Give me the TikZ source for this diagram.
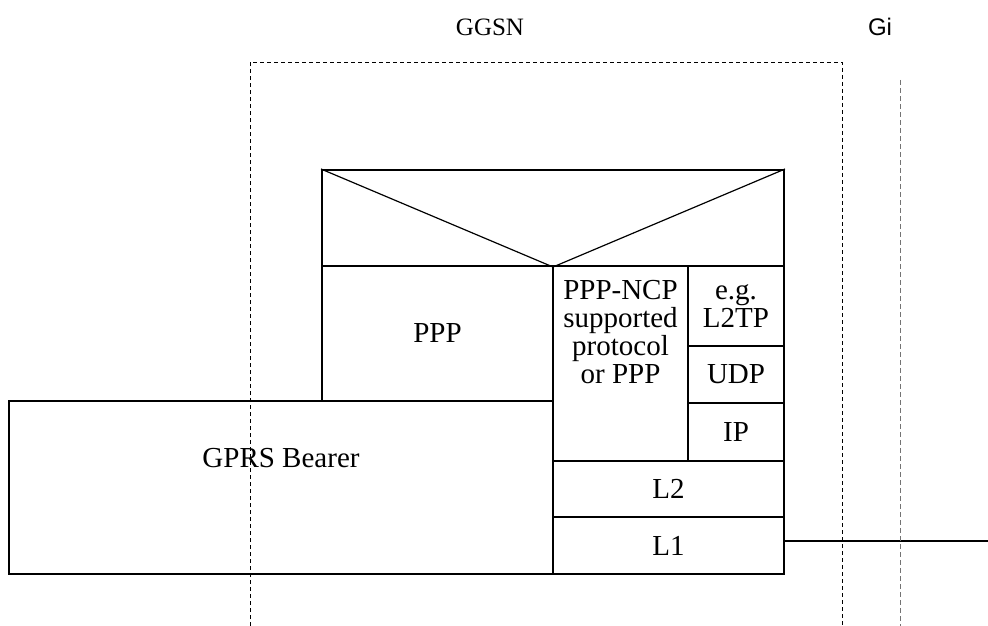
\documentclass[tikz,border=0pt]{standalone}
\usepackage{fontspec}
\setmainfont{Liberation Serif}
\newfontfamily\arialfont{Liberation Sans}
\begin{document}
\begin{tikzpicture}[x=1pt,y=-1pt,
  box/.style={draw=black,line width=2pt,anchor=north west,inner sep=0pt,
    font=\fontsize{29}{33}\selectfont,align=center},
  dashln/.style={draw=black,line width=0.8pt,dash pattern=on 4pt off 3pt},
  giln/.style={draw=black!55,line width=1pt,dash pattern=on 5pt off 3pt},
  link/.style={draw=black,line width=2pt}]
\useasboundingbox (0,0) rectangle (988,626);
% titles
\node[font=\fontsize{25}{28}\selectfont] (ggsn) at (490,27) {GGSN};
\node[font=\arialfont\fontsize{24}{28}\selectfont] (gi) at (880,27) {Gi};
% protocol stack
\node[box,minimum width=462,minimum height=96] (tri) at (321,169) {};
\draw[line width=1.2pt] (tri.north west) -- (tri.south) -- (tri.north east);
\node[box,minimum width=231,minimum height=135] (ppp) at (321,265) {PPP};
\node[box,minimum width=135,minimum height=195,
  label={[font=\fontsize{29}{28}\selectfont,align=center,anchor=center,yshift=31pt]center:PPP-NCP\\supported\\protocol\\or PPP}] (ncp) at (552,265) {};
\node[box,minimum width=96,minimum height=80,font=\fontsize{29}{28}\selectfont] (l2tp) at (687,265) {e.g.\\L2TP};
\node[box,minimum width=96,minimum height=57] (udp) at (687,345) {UDP};
\node[box,minimum width=96,minimum height=58] (ip) at (687,402) {IP};
\node[box,minimum width=231,minimum height=56] (l2) at (552,460) {L2};
\node[box,minimum width=231,minimum height=57] (l1) at (552,516) {L1};
\node[box,minimum width=544,minimum height=173,
  label={[font=\fontsize{29}{33}\selectfont,anchor=center,yshift=29pt]center:GPRS Bearer}] (bearer) at (8,400) {};
% link to Gi
\coordinate (gend) at (988,541);
\draw[link] (l1.east |- gend) -- (gend);
% GGSN dashed frame and Gi reference line
\draw[dashln] (250,626) -- (250,62) -- (842,62) -- (842,626);
\draw[giln] (900,80) -- (900,626);
\end{tikzpicture}
\end{document}
